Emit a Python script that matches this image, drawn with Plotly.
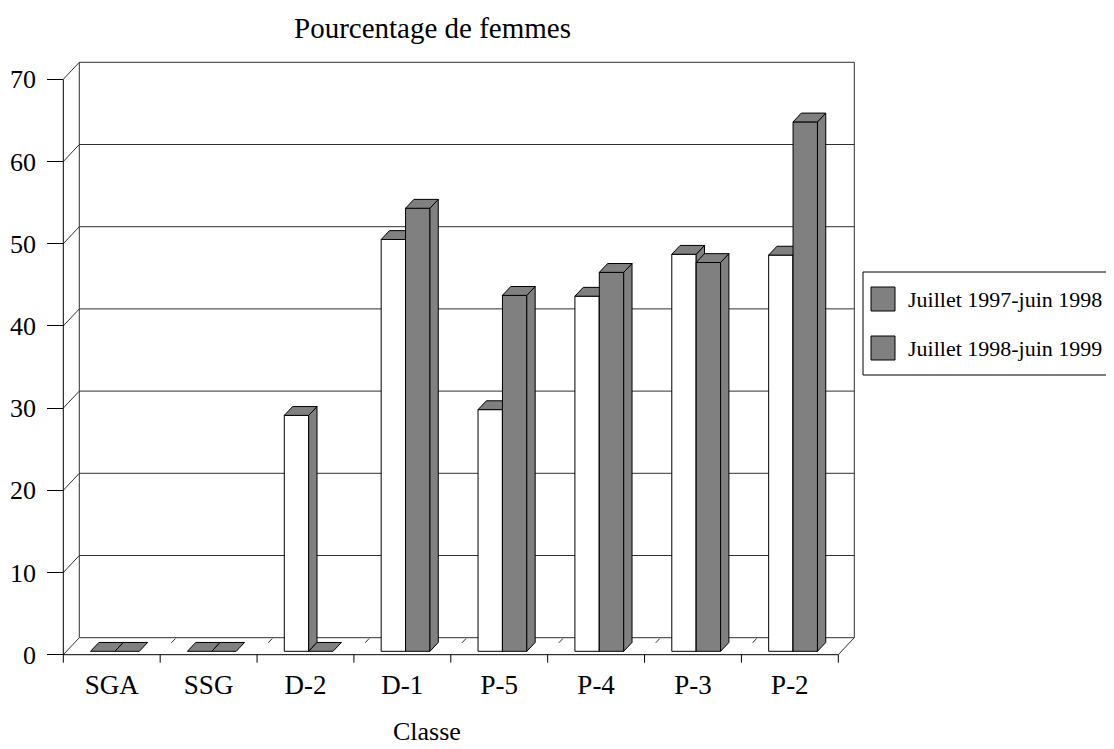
import plotly.graph_objects as go

# ---------------- data ----------------
categories = ["SGA", "SSG", "D-2", "D-1", "P-5", "P-4", "P-3", "P-2"]
series_names = ["Juillet 1997-juin 1998", "Juillet 1998-juin 1999"]
values_9798 = [0, 0, 28.7, 50.1, 29.4, 43.2, 48.3, 48.2]
values_9899 = [0, 0, 0, 53.9, 43.3, 46.1, 47.3, 64.4]
y_ticks = [0, 10, 20, 30, 40, 50, 60, 70]
chart_title = "Pourcentage de femmes"
x_title = "Classe"

# ---------------- geometry (pixel layout) ----------------
OFF = 8                      # page body margin in the browser
W, H = 1114 - OFF, 749 - OFF # figure size
X0 = 63.3 - OFF              # front y-axis x pixel (figure coords)
CW = 96.875                  # category width in px
Y0 = 654.7 - OFF             # front zero line y pixel (figure coords)
S = 8.22                     # px per value unit
DX = 16 / CW                 # full depth offset, category units
DY = 17 / S                  # full depth offset, value units
F0, F1 = 0.2, 0.72           # bar depth span (fraction of floor depth)
BW = 24.4 / CW               # bar width in category units
YMAX = 70
FONT = "Liberation Serif, Times New Roman, serif"
GRAY = "#808080"

x_range = [-X0 / CW, (W - X0) / CW]
y_range = [(Y0 - H) / S, Y0 / S]
n = len(categories)

fig = go.Figure()


def px2paper(x, y):
    """reference-page pixel -> paper fraction"""
    return (x - OFF) / W, 1 - (y - OFF) / H


def lines_trace(xs, ys, color="black", width=1):
    fig.add_trace(go.Scatter(x=xs, y=ys, mode="lines",
                             line=dict(color=color, width=width),
                             hoverinfo="skip", showlegend=False))


def poly(pts, fill):
    xs = [p[0] for p in pts] + [pts[0][0]]
    ys = [p[1] for p in pts] + [pts[0][1]]
    fig.add_trace(go.Scatter(x=xs, y=ys, mode="lines", fill="toself",
                             fillcolor=fill, line=dict(color="black", width=1),
                             hoverinfo="skip", showlegend=False))


# ---------------- walls / gridlines ----------------
gx, gy = [], []
for v in y_ticks:
    gx += [DX, n + DX, None]
    gy += [v + DY, v + DY, None]
    gx += [0, DX, None]
    gy += [v, v + DY, None]
gx += [DX, DX, None, n + DX, n + DX, None]
gy += [DY, YMAX + DY, None, DY, YMAX + DY, None]
gx += [n, n + DX, None]
gy += [0, DY, None]
for i in range(1, n):
    gx += [i + 0.7 * DX, i + 0.95 * DX, None]
    gy += [0.7 * DY, 0.95 * DY, None]
lines_trace(gx, gy, color="#303030")

# front axes
ax, ay = [], []
ax += [0, 0, None, 0, n, None]
ay += [YMAX, 0, None, 0, 0, None]
for i in range(n + 1):
    ax += [i, i, None]
    ay += [0, -8 / S, None]
lines_trace(ax, ay, color="black")

# ---------------- 3D bars ----------------
ddx = (F1 - F0) * DX
ddy = (F1 - F0) * DY
series = [(values_9798, "white"), (values_9899, GRAY)]
for i in range(n):
    center = i + 0.5 + F0 * DX
    for s, (vals, col) in enumerate(series):
        xl = center - BW + s * BW
        xr = xl + BW
        b = F0 * DY
        t = vals[i] + F0 * DY
        if vals[i] > 0:
            poly([(xl, b), (xr, b), (xr, t), (xl, t)], col)
            poly([(xr, b), (xr + ddx, b + ddy), (xr + ddx, t + ddy), (xr, t)], GRAY)
        poly([(xl, t), (xr, t), (xr + ddx, t + ddy), (xl + ddx, t + ddy)], GRAY)

# ---------------- layout ----------------
fig.update_layout(
    width=W, height=H,
    margin=dict(l=0, r=0, t=0, b=0),
    paper_bgcolor="white", plot_bgcolor="white",
    showlegend=False,
    font=dict(family=FONT, color="black"),
    xaxis=dict(range=x_range, anchor="free", position=(H - Y0) / H,
               tickvals=[i + 0.5 for i in range(n)], ticktext=categories,
               ticks="", showline=False, showgrid=False, zeroline=False,
               tickfont=dict(size=27, family=FONT, color="black"),
               ticklabelstandoff=11, fixedrange=True),
    yaxis=dict(range=y_range, anchor="free", position=X0 / W, side="left",
               tickvals=y_ticks, ticks="outside", ticklen=16, tickwidth=1,
               tickcolor="black", showline=False, showgrid=False, zeroline=False,
               tickfont=dict(size=26, family=FONT, color="black"),
               ticklabelstandoff=6, fixedrange=True),
)

# titles
tx, ty = px2paper(432, 28)
fig.add_annotation(text=chart_title, xref="paper", yref="paper",
                   x=tx, y=ty, xanchor="center", yanchor="middle",
                   showarrow=False, font=dict(size=29, family=FONT, color="black"))
tx, ty = px2paper(427, 731)
fig.add_annotation(text=x_title, xref="paper", yref="paper",
                   x=tx, y=ty, xanchor="center", yanchor="middle",
                   showarrow=False, font=dict(size=26, family=FONT, color="black"))

# legend (drawn manually)
lx0, ly0 = px2paper(863, 272)
lx1, ly1 = px2paper(1112, 375)
fig.add_shape(type="rect", xref="paper", yref="paper", x0=lx0, y0=ly0, x1=lx1, y1=ly1,
              line=dict(color="black", width=1), fillcolor="white")
for k, name in enumerate(series_names):
    cy = 299 + k * 49
    sx0, sy0 = px2paper(871, cy - 12)
    sx1, sy1 = px2paper(895, cy + 12)
    fig.add_shape(type="rect", xref="paper", yref="paper", x0=sx0, y0=sy0, x1=sx1, y1=sy1,
                  line=dict(color="black", width=1), fillcolor=GRAY)
    tx, ty = px2paper(906, cy)
    fig.add_annotation(text=name, xref="paper", yref="paper", x=tx, y=ty,
                       xanchor="left", yanchor="middle", showarrow=False,
                       font=dict(size=22, family=FONT, color="black"))

fig.write_html("out.html", config={"displayModeBar": False})
